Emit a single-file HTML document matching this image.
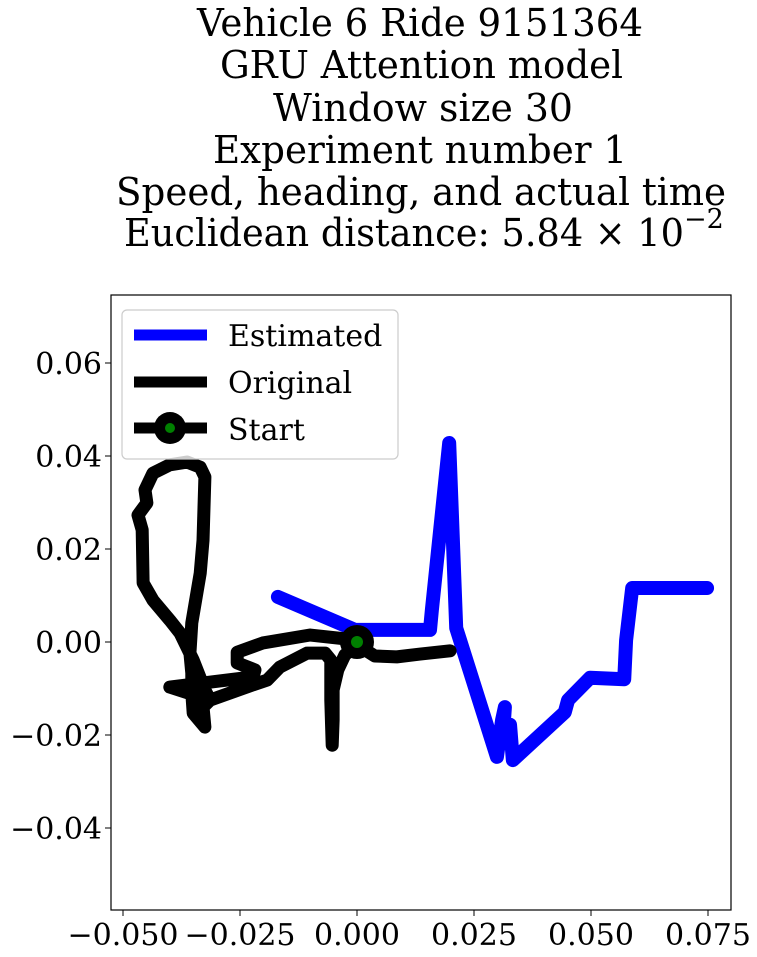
<!DOCTYPE html>
<html><head><meta charset="utf-8"><style>
html,body{margin:0;padding:0;background:#fff;}
svg{display:block;font-family:"DejaVu Serif","Liberation Serif",serif;}
</style></head><body>
<svg id="chart" width="757" height="957" viewBox="0 0 757 957">
<g font-size="38" text-anchor="start" fill="#000">
<text x="197" y="36" textLength="446" lengthAdjust="spacingAndGlyphs">Vehicle 6 Ride 9151364</text>
<text x="220" y="78" textLength="403" lengthAdjust="spacingAndGlyphs">GRU Attention model</text>
<text x="273" y="121" textLength="300" lengthAdjust="spacingAndGlyphs">Window size 30</text>
<text x="213" y="163" textLength="414" lengthAdjust="spacingAndGlyphs">Experiment number 1</text>
<text x="116" y="205" textLength="610" lengthAdjust="spacingAndGlyphs">Speed, heading, and actual time</text>
<text x="124" y="246" textLength="560" lengthAdjust="spacingAndGlyphs">Euclidean distance: 5.84 × 10</text>
<text x="684" y="228" font-size="27">−2</text>
</g>
<defs><clipPath id="clip"><rect x="111" y="295" width="620" height="615"/></clipPath></defs>
<g id="plot" clip-path="url(#clip)"></g>
<rect x="111" y="295" width="620" height="615" fill="none" stroke="#000" stroke-width="1.2"/>
<g id="axes" font-size="30" fill="#000"></g>
<g>
<rect x="122" y="310" width="276" height="149" rx="5" fill="#fff" fill-opacity="0.8" stroke="#ccc" stroke-width="1.2"/>
<line x1="134" y1="335" x2="207" y2="335" stroke="#0000ff" stroke-width="11"/>
<text x="228" y="346" font-size="30">Estimated</text>
<line x1="134" y1="382" x2="207" y2="382" stroke="#000" stroke-width="11"/>
<text x="228" y="393" font-size="30">Original</text>
<line x1="134" y1="428" x2="207" y2="428" stroke="#000" stroke-width="11"/>
<circle cx="170" cy="428" r="16" fill="#000"/>
<circle cx="170" cy="428" r="5" fill="#008000"/>
<text x="228" y="440" font-size="30">Start</text>
</g>
</svg>
<script>
const estX=[-0.0169,-0.0004,0.0156,0.0160,0.0197,0.0212,0.0299,0.0310,0.0316,0.0312,0.0327,0.0333,0.0444,0.0451,0.0498,0.0571,0.0575,0.0588,0.0748];
const estY=[0.0097,0.0026,0.0026,0.0069,0.0428,0.0030,-0.0247,-0.0168,-0.0140,-0.0200,-0.0178,-0.0254,-0.0151,-0.0125,-0.0077,-0.0080,0.0004,0.0116,0.0116];
const origX=[0.0199,0.0135,0.0085,0.0038,0,-0.0026,-0.0041,-0.0051,-0.0051,-0.0053,-0.0056,-0.0056,-0.0068,-0.0107,-0.0165,-0.0192,-0.0222,-0.0314,-0.0329,-0.0325,-0.0350,-0.0353,-0.0353,-0.0357,-0.0353,-0.0335,-0.0329,-0.0325,-0.0335,-0.0363,-0.0400,-0.0436,-0.0453,-0.0449,-0.0468,-0.0459,-0.0457,-0.0436,-0.0400,-0.0378,-0.0350,-0.0325,-0.0314,-0.0400,-0.0222,-0.0218,-0.0256,-0.0256,-0.0201,-0.0100,0];
const origY=[-0.0019,-0.0026,-0.0032,-0.0030,-0.0006,-0.0028,-0.0060,-0.0103,-0.0168,-0.0222,-0.0125,-0.0039,-0.0024,-0.0024,-0.0054,-0.0082,-0.0092,-0.0125,-0.0140,-0.0183,-0.0153,-0.0110,-0.0067,-0.0024,0.0041,0.0148,0.0219,0.0355,0.0376,0.0387,0.0381,0.0363,0.0327,0.0299,0.0273,0.0241,0.0127,0.0090,0.0047,0.0019,-0.0039,-0.0103,-0.0125,-0.0097,-0.0075,-0.0060,-0.0045,-0.0022,-0.0002,0.0015,0.0004];
const startPt=[0,0];
const xTicks=[-0.050,-0.025,0.000,0.025,0.050,0.075];
const xTickLabels=["−0.050","−0.025","0.000","0.025","0.050","0.075"];
const yTicks=[-0.04,-0.02,0.00,0.02,0.04,0.06];
const yTickLabels=["−0.04","−0.02","0.00","0.02","0.04","0.06"];

const NS="http://www.w3.org/2000/svg";
function sx(v){return 357+v*4680;}
function sy(v){return 642-v*4650;}
const plot=document.getElementById('plot');
const axes=document.getElementById('axes');
function poly(xs,ys,color,w,name){
  const p=document.createElementNS(NS,'polyline');
  p.setAttribute('points',xs.map((x,i)=>sx(x)+','+sy(ys[i])).join(' '));
  p.setAttribute('fill','none');p.setAttribute('stroke',color);
  p.setAttribute('stroke-width',w);p.setAttribute('stroke-linejoin','round');p.setAttribute('stroke-linecap','round');
  
  
  plot.appendChild(p);
}
poly(estX,estY,'#0000ff',14,'estimated-line');
poly(origX,origY,'#000',13,'original-line');
const c1=document.createElementNS(NS,'circle');
c1.setAttribute('cx',sx(startPt[0]));c1.setAttribute('cy',sy(startPt[1]));c1.setAttribute('r',17);c1.setAttribute('fill','#000');


plot.appendChild(c1);
const c2=document.createElementNS(NS,'circle');
c2.setAttribute('cx',sx(startPt[0]));c2.setAttribute('cy',sy(startPt[1]));c2.setAttribute('r',6);c2.setAttribute('fill','#008000');


plot.appendChild(c2);
xTicks.forEach((v,i)=>{
  const l=document.createElementNS(NS,'line');
  l.setAttribute('x1',sx(v));l.setAttribute('x2',sx(v));l.setAttribute('y1',910);l.setAttribute('y2',916);l.setAttribute('stroke','#000');
  
  
  axes.appendChild(l);
  const t=document.createElementNS(NS,'text');
  t.setAttribute('x',sx(v));t.setAttribute('y',945);t.setAttribute('text-anchor','middle');
  t.textContent=xTickLabels[i];
  
  
  axes.appendChild(t);
});
yTicks.forEach((v,i)=>{
  const l=document.createElementNS(NS,'line');
  l.setAttribute('x1',105);l.setAttribute('x2',111);l.setAttribute('y1',sy(v));l.setAttribute('y2',sy(v));l.setAttribute('stroke','#000');
  
  
  axes.appendChild(l);
  const t=document.createElementNS(NS,'text');
  t.setAttribute('x',102);t.setAttribute('y',sy(v)+11);t.setAttribute('text-anchor','end');
  t.textContent=yTickLabels[i];
  
  
  axes.appendChild(t);
});
</script>
</body></html>
